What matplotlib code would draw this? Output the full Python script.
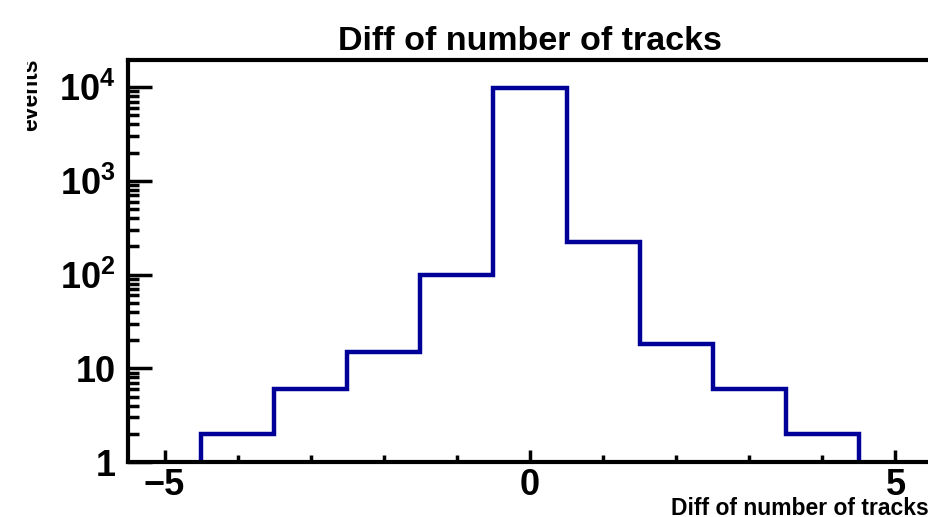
import matplotlib

matplotlib.use("Agg")
import matplotlib.pyplot as plt
import numpy as np
from matplotlib.transforms import Bbox
from matplotlib.ticker import FixedLocator, FixedFormatter, LogLocator, MultipleLocator, NullFormatter

plt.rcParams["font.family"] = ["Liberation Sans", "DejaVu Sans"]
plt.rcParams["font.weight"] = "bold"
plt.rcParams["mathtext.fontset"] = "custom"
plt.rcParams["mathtext.rm"] = "Liberation Sans:bold"
plt.rcParams["mathtext.it"] = "Liberation Sans:bold"
plt.rcParams["mathtext.bf"] = "Liberation Sans:bold"

# histogram contents: one bin per integer difference
bin_centers = [-4, -3, -2, -1, 0, 1, 2, 3, 4]
counts = [2, 6, 15, 100, 9800, 222, 18, 6, 2]

ytick_vals = [1, 10, 100, 1000, 10000]
ytick_labels = ["1", "10", r"$10^{2}$", r"$10^{3}$", r"$10^{4}$"]
xtick_vals = [-5, 0, 5]

blue = "#000099"

W, H = 929, 517
fig = plt.figure(figsize=(W / 100, H / 100), dpi=100)
ax = fig.add_axes([128 / W, 55 / H, 804 / W, 402 / H])

edges = np.append(np.array(bin_centers) - 0.5, bin_centers[-1] + 0.5)
ax.stairs(counts, edges, baseline=1, color=blue, linewidth=3.2)

ax.set_yscale("log")
ax.set_xlim(-5.5, 5.5)
ax.set_ylim(1, 19500)

ax.yaxis.set_major_locator(FixedLocator(ytick_vals))
ax.yaxis.set_major_formatter(FixedFormatter(ytick_labels))
ax.yaxis.set_minor_locator(LogLocator(base=10, subs=np.arange(2, 10)))
ax.yaxis.set_minor_formatter(NullFormatter())
ax.xaxis.set_major_locator(FixedLocator(xtick_vals))
ax.xaxis.set_minor_locator(MultipleLocator(1))

ax.tick_params(axis="both", which="both", direction="in", width=2.5, top=False, right=False)
ax.tick_params(axis="y", which="major", length=17, pad=9, labelsize=26)
ax.tick_params(axis="y", which="minor", length=8)
ax.tick_params(axis="x", which="major", length=9, pad=4, labelsize=26)
ax.tick_params(axis="x", which="minor", length=5)

for side in ["left", "top", "bottom"]:
    ax.spines[side].set_linewidth(3)
ax.spines["right"].set_visible(False)

ax.set_title("Diff of number of tracks", fontsize=24.5, fontweight="bold", pad=7)
fig.text(0.9995, 0.004, "Diff of number of tracks", ha="right", va="baseline",
         fontsize=16.5, fontweight="bold")

# y title sits partly outside the pad, so its left part is cut off
ylab = fig.text(37 / W, 1 - 58 / H, "events", rotation=90, rotation_mode="anchor",
                ha="right", va="baseline", fontsize=16.5, fontweight="bold")
ylab.set_clip_box(Bbox.from_extents(27, 0, W, H))
ylab.set_clip_on(True)

fig.savefig("out.png", dpi=100)
